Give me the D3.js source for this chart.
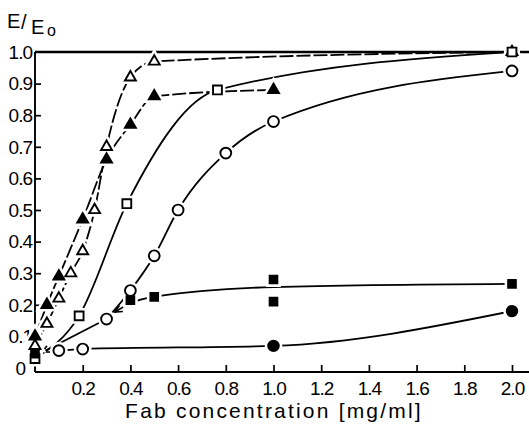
<!DOCTYPE html>
<html><head><meta charset="utf-8">
<script src="https://cdn.jsdelivr.net/npm/d3@7/dist/d3.min.js"></script>
<style>body{margin:0;background:#fff}svg{display:block}</style>
</head><body>
<svg id="c" width="529" height="425"></svg>
<script>
// ---- data ----
const xTicks = [0.2,0.4,0.6,0.8,1.0,1.2,1.4,1.6,1.8,2.0];
const yTicks = [0,0.1,0.2,0.3,0.4,0.5,0.6,0.7,0.8,0.9,1.0];
const yTickLabels = ["0","0.1","0.2","0.3","0.4","0.5","0.6","0.7","0.8","0.9","1.0"];
const xTitle = "Fab concentration [mg/ml]";

const openTriangle = [[0,0.07],[0.05,0.14],[0.1,0.22],[0.15,0.30],[0.2,0.37],[0.25,0.50],[0.3,0.70],[0.4,0.92],[0.5,0.97],[2.0,1.0]];
const filledTriangle = [[0,0.10],[0.05,0.20],[0.1,0.29],[0.2,0.47],[0.3,0.66],[0.4,0.77],[0.5,0.86],[1.0,0.88]];
const openSquare = [[0,0.03],[0.185,0.165],[0.385,0.52],[0.765,0.88],[2.0,1.0]];
const openCircle = [[0.3,0.155],[0.4,0.245],[0.5,0.355],[0.6,0.50],[0.8,0.68],[1.0,0.78],[2.0,0.94]];
const openCircleArrow = [[0.3,0.155],[0.03,0.05]];
const filledSquare = [[0,0.045],[0.4,0.215],[0.5,0.225],[1.0,0.28],[1.0,0.21],[2.0,0.266]];
const filledSquareCurve = [[0.335,0.177],[0.4,0.205],[0.5,0.225],[1.0,0.256],[2.0,0.266]];
const lowOpenCircle = [[0.1,0.055],[0.2,0.06]];
const filledCircle = [[1.0,0.07],[2.0,0.18]];
const lowCurve = [[0.1,0.055],[0.2,0.06],[1.0,0.07],[2.0,0.18]];
const referenceLevel = 1.0;

// ---- scales ----
const x = d3.scaleLinear().domain([0,2]).range([35,512]);
const y = d3.scaleLinear().domain([0,1]).range([368,52]);
const svg = d3.select("#c");
const font = "'Liberation Sans', Arial, sans-serif";

// ---- axes ----
const xAxisY = 372;
const gx = svg.append("g").attr("transform",`translate(0,${xAxisY})`)
  .call(d3.axisBottom(x).tickValues(xTicks).tickSize(-7).tickPadding(9.5).tickFormat(d3.format(".1f")));
gx.select(".domain").remove();
gx.selectAll(".tick line").attr("stroke","#000").attr("stroke-width",1.7);
gx.selectAll(".tick text").attr("font-family",font).attr("font-size",19).attr("letter-spacing","-1px").attr("fill","#000");
svg.append("line").attr("x1",35).attr("x2",529).attr("y1",xAxisY).attr("y2",xAxisY).attr("stroke","#000").attr("stroke-width",1.9);

const gy = svg.append("g").attr("transform","translate(35,0)")
  .call(d3.axisLeft(y).tickValues(yTicks.filter(v=>v>0 && v<1)).tickSize(-6).tickFormat(""));
gy.select(".domain").remove();
gy.selectAll(".tick line").attr("stroke","#000").attr("stroke-width",1.7);
svg.append("line").attr("x1",35).attr("x2",35).attr("y1",y(1)).attr("y2",xAxisY).attr("stroke","#000").attr("stroke-width",1.9);
svg.append("g").selectAll("text").data(yTicks).join("text")
  .attr("x",(d,i)=> d===0 ? 25 : 32)
  .attr("y",d=>y(d)).attr("dy","0.36em")
  .attr("text-anchor","end").attr("font-family",font).attr("font-size",19).attr("letter-spacing","-1px")
  .text((d,i)=>yTickLabels[i]);

// reference line at 1.0
svg.append("line").attr("x1",35).attr("x2",529).attr("y1",y(referenceLevel)).attr("y2",y(referenceLevel))
  .attr("stroke","#000").attr("stroke-width",2.3);

// titles
svg.append("text").attr("x",274).attr("y",418).attr("text-anchor","middle")
  .attr("font-family",font).attr("font-size",21).attr("letter-spacing","2.2px").text(xTitle);
const yt = svg.append("text").attr("font-family",font).attr("font-size",20);
yt.append("tspan").attr("x",7).attr("y",28).text("E");
yt.append("tspan").attr("x",21).attr("y",29).text("/");
yt.append("tspan").attr("x",31).attr("y",34).text("E");
yt.append("tspan").attr("x",47).attr("y",36).attr("font-size",16).text("o");

// ---- curves ----
const line = d3.line().x(d=>x(d[0])).y(d=>y(d[1])).curve(d3.curveMonotoneX);
const straight = d3.line().x(d=>x(d[0])).y(d=>y(d[1]));
function curve(data, dash, gen){
  svg.append("path").attr("d",(gen||line)(data)).attr("fill","none").attr("stroke","#000")
    .attr("stroke-width",1.8).attr("stroke-dasharray",dash||null);
}
curve(openTriangle, "14,3");
curve(filledTriangle, "14,3");
curve(openSquare);
curve(openCircle);
curve(filledSquareCurve);
curve(lowCurve);
curve(openCircleArrow, null, straight);

// arrowheads (open chevrons) at curve starts
function arrowHead(p, q){
  const x0=x(p[0]), y0=y(p[1]), x1=x(q[0]), y1=y(q[1]);
  const a = Math.atan2(y0-y1, x0-x1);
  const L=8, w=0.45;
  const pts=[[x0+L*Math.cos(a+Math.PI-w), y0+L*Math.sin(a+Math.PI-w)],[x0,y0],[x0+L*Math.cos(a+Math.PI+w), y0+L*Math.sin(a+Math.PI+w)]];
  svg.append("path").attr("d",d3.line()(pts)).attr("fill","none").attr("stroke","#000").attr("stroke-width",1.7);
}
arrowHead(openCircleArrow[1], openCircleArrow[0]);
arrowHead(filledSquareCurve[0], filledSquareCurve[1]);

// ---- markers ----
const sets = [
  {data:openTriangle, type:d3.symbolTriangle, size:52, fill:"#fff"},
  {data:filledTriangle, type:d3.symbolTriangle, size:52, fill:"#000"},
  {data:openSquare, type:d3.symbolSquare, size:78, fill:"#fff"},
  {data:openCircle, type:d3.symbolCircle, size:92, fill:"#fff"},
  {data:lowOpenCircle, type:d3.symbolCircle, size:92, fill:"#fff"},
  {data:filledSquare, type:d3.symbolSquare, size:60, fill:"#000"},
  {data:filledCircle, type:d3.symbolCircle, size:88, fill:"#000"}
];
const halo = svg.append("g"), marks = svg.append("g");
sets.forEach(s=>{
  const sym = d3.symbol().type(s.type).size(s.size);
  halo.selectAll(null).data(s.data).join("path")
    .attr("transform",d=>`translate(${x(d[0])},${y(d[1])})`).attr("d",sym())
    .attr("fill","#fff").attr("stroke","#fff").attr("stroke-width",7);
});
sets.forEach(s=>{
  const sym = d3.symbol().type(s.type).size(s.size);
  marks.selectAll(null).data(s.data).join("path")
    .attr("transform",d=>`translate(${x(d[0])},${y(d[1])})`).attr("d",sym())
    .attr("fill",s.fill).attr("stroke","#000").attr("stroke-width",1.9);
});
</script>
</body></html>
